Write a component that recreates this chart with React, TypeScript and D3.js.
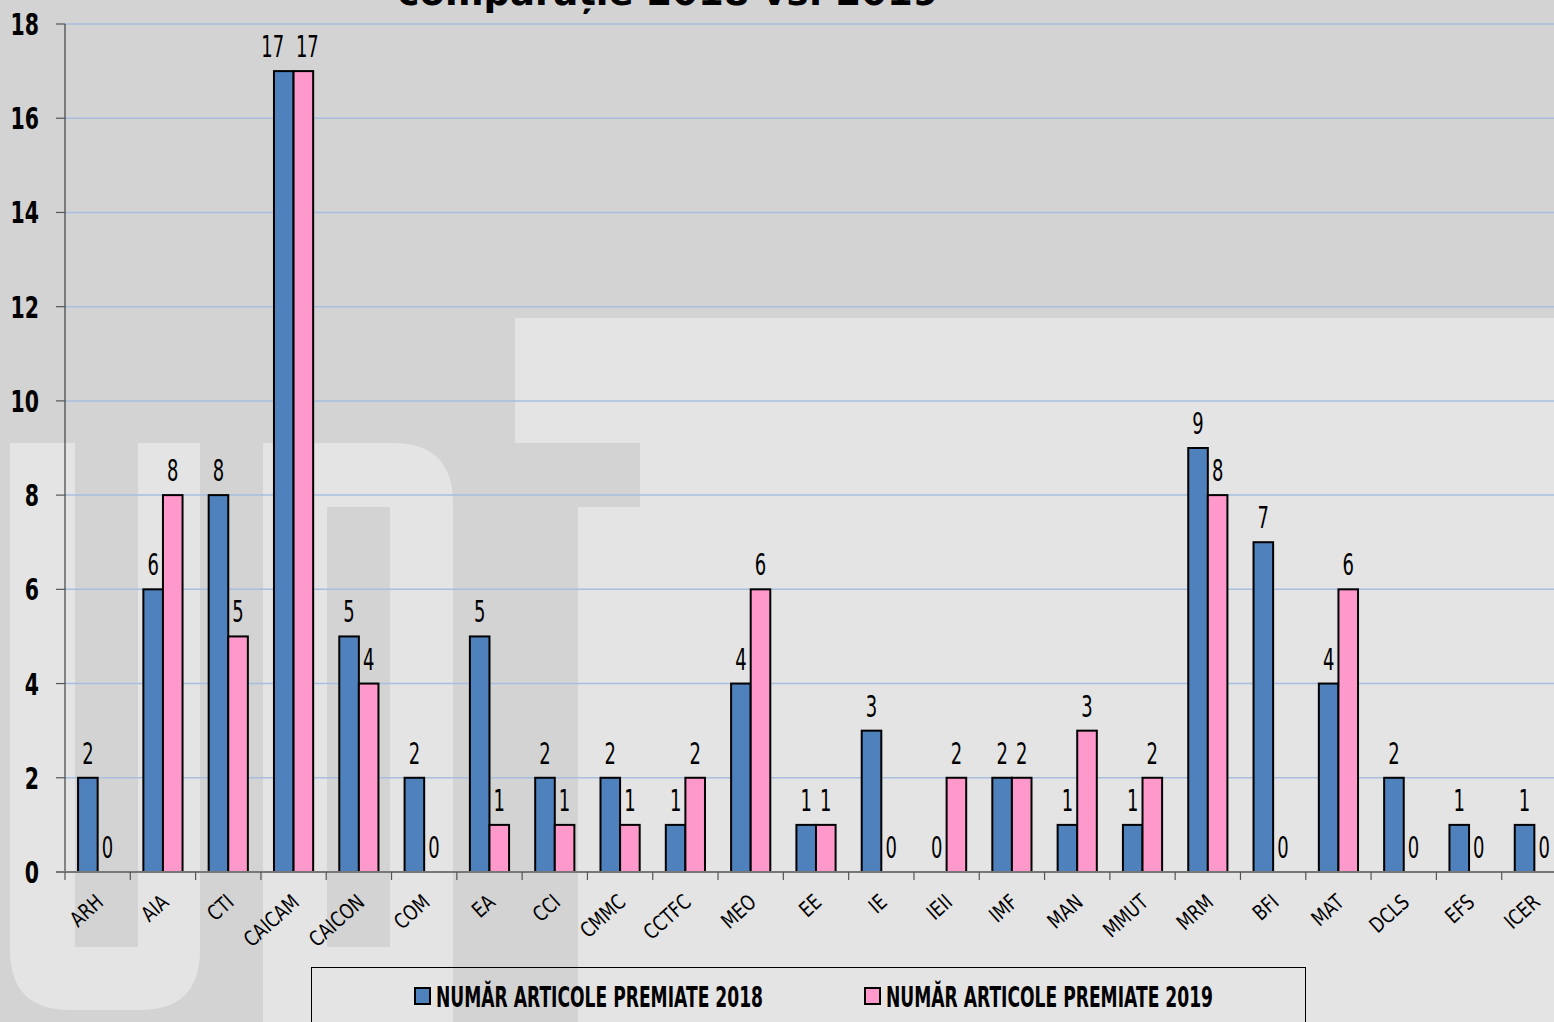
import React, { useRef, useEffect } from 'react';
import * as d3 from 'd3';

const categories = ['ARH', 'AIA', 'CTI', 'CAICAM', 'CAICON', 'COM', 'EA', 'CCI', 'CMMC', 'CCTFC', 'MEO', 'EE', 'IE', 'IEII', 'IMF', 'MAN', 'MMUT', 'MRM', 'BFI', 'MAT', 'DCLS', 'EFS', 'ICER'];
const values2018 = [2, 6, 8, 17, 5, 2, 5, 2, 2, 1, 4, 1, 3, 0, 2, 1, 1, 9, 7, 4, 2, 1, 1];
const values2019 = [0, 8, 5, 17, 4, 0, 1, 1, 1, 2, 6, 1, 0, 2, 2, 3, 2, 8, 0, 6, 0, 0, 0];
const seriesNames = ['NUMĂR ARTICOLE PREMIATE 2018', 'NUMĂR ARTICOLE PREMIATE 2019'];
const yTicks = [0, 2, 4, 6, 8, 10, 12, 14, 16, 18];
const titleText = 'comparație 2018 vs. 2019';

const FONT = '"DejaVu Sans", sans-serif';
const COLORS = ['#4f81bd', '#ff99cc'];

function App() {
  const svgRef = useRef<SVGSVGElement>(null);

  useEffect(() => {
    const svg = d3.select(svgRef.current);
    svg.selectAll('*').remove();
    const width = 1554;
    const height = 1022;
    const left = 65;
    const right = 1567; // plot runs past the picture's right edge
    const top = 24;
    const bottom = 872;

    // background + UPT watermark
    const dark = '#d3d3d3';
    const light = '#e4e4e4';
    svg.append('rect').attr('width', width).attr('height', height).attr('fill', dark);
    const wm = svg.append('g');
    // U
    wm.append('path')
      .attr('d', 'M10,443 H200 V950 Q200,1010 140,1010 H70 Q10,1010 10,950 Z')
      .attr('fill', light);
    wm.append('rect').attr('x', 75).attr('y', 443).attr('width', 63).attr('height', 504).attr('fill', dark);
    // P
    wm.append('path')
      .attr('d', 'M263,443 H393 Q453,443 453,503 V1022 H263 Z')
      .attr('fill', light);
    wm.append('rect').attr('x', 327).attr('y', 507).attr('width', 63).attr('height', 440).attr('fill', dark);
    // T
    wm.append('rect').attr('x', 515).attr('y', 318).attr('width', 1039).attr('height', 125).attr('fill', light);
    wm.append('rect').attr('x', 640).attr('y', 443).attr('width', 914).attr('height', 64).attr('fill', light);
    wm.append('rect').attr('x', 578).attr('y', 507).attr('width', 976).attr('height', 515).attr('fill', light);

    const x0 = d3.scaleBand<string>()
      .domain(categories)
      .range([left, right])
      .paddingInner(0.4)
      .paddingOuter(0.2);
    const x1 = d3.scaleBand<number>()
      .domain([0, 1])
      .range([0, x0.bandwidth()]);
    const y = d3.scaleLinear().domain([0, 18]).range([bottom, top]);

    // gridlines
    svg.append('g')
      .selectAll('line')
      .data(yTicks.filter(d => d > 0))
      .join('line')
      .attr('x1', left).attr('x2', width)
      .attr('y1', d => y(d)).attr('y2', d => y(d))
      .attr('stroke', '#a7bfdf').attr('stroke-width', 1.5);

    // y axis
    svg.append('line')
      .attr('x1', left).attr('x2', left)
      .attr('y1', top).attr('y2', bottom)
      .attr('stroke', '#222').attr('stroke-width', 1);
    const yt = svg.append('g')
      .selectAll('g')
      .data(yTicks)
      .join('g');
    yt.append('line')
      .attr('x1', 56).attr('x2', left)
      .attr('y1', d => y(d)).attr('y2', d => y(d))
      .attr('stroke', '#555').attr('stroke-width', 1.2);
    yt.append('text')
      .attr('transform', d => `translate(39,${y(d) + 11}) scale(0.66,1)`)
      .attr('text-anchor', 'end')
      .attr('font-family', FONT).attr('font-size', 31).attr('font-weight', 'bold').attr('fill', '#000')
      .text(d => d);

    // bars
    const series = [values2018, values2019];
    const groups = svg.append('g')
      .selectAll('g')
      .data(categories)
      .join('g')
      .attr('transform', d => `translate(${x0(d)},0)`);

    groups.selectAll('rect')
      .data((d, i) => series.map((s, k) => ({ k, v: s[i] })).filter(e => e.v > 0))
      .join('rect')
      .attr('x', e => x1(e.k)!)
      .attr('y', e => y(e.v))
      .attr('width', x1.bandwidth())
      .attr('height', e => bottom - y(e.v))
      .attr('fill', e => COLORS[e.k])
      .attr('stroke', '#000')
      .attr('stroke-width', 2);

    // value labels
    groups.selectAll('text')
      .data((d, i) => series.map((s, k) => ({ k, v: s[i], pair: [values2018[i], values2019[i]] })))
      .join('text')
      .attr('transform', e => {
        let cx = x1(e.k)! + x1.bandwidth() / 2;
        if (e.pair[0] >= 10 && e.pair[1] >= 10) cx += e.k === 0 ? -11 : 4;
        return `translate(${cx},${y(e.v) - 14}) scale(0.6,1)`;
      })
      .attr('text-anchor', 'middle')
      .attr('font-family', FONT).attr('font-size', 30).attr('fill', '#000')
      .text(e => e.v);

    // x axis
    svg.append('line')
      .attr('x1', 56).attr('x2', width)
      .attr('y1', bottom).attr('y2', bottom)
      .attr('stroke', '#777').attr('stroke-width', 2);
    svg.append('g')
      .selectAll('line')
      .data(d3.range(categories.length + 1))
      .join('line')
      .attr('x1', i => left + i * x0.step()).attr('x2', i => left + i * x0.step())
      .attr('y1', bottom).attr('y2', bottom + 8)
      .attr('stroke', '#555').attr('stroke-width', 1.2);

    svg.append('g')
      .selectAll('text')
      .data(categories)
      .join('text')
      .attr('transform', d => `translate(${x0(d)! + x0.bandwidth() / 2 + 7},${bottom + 32}) rotate(-42) scale(0.8,1)`)
      .attr('text-anchor', 'end')
      .attr('font-family', FONT).attr('font-size', 21).attr('fill', '#000')
      .text(d => d);

    // title (cut off at the top, as in the source)
    svg.append('text')
      .attr('x', 668).attr('y', 5)
      .attr('text-anchor', 'middle')
      .attr('font-family', '"DejaVu Sans", Verdana, sans-serif')
      .attr('font-weight', 'bold').attr('font-size', 37).attr('fill', '#000')
      .text(titleText);

    // legend
    const lg = svg.append('g');
    lg.append('rect')
      .attr('x', 311.5).attr('y', 967.5).attr('width', 994).attr('height', 80)
      .attr('fill', 'none').attr('stroke', '#000').attr('stroke-width', 1);
    const legendX = [415, 865];
    seriesNames.forEach((name, k) => {
      lg.append('rect')
        .attr('x', legendX[k]).attr('y', 988).attr('width', 15).attr('height', 16)
        .attr('fill', COLORS[k]).attr('stroke', '#000').attr('stroke-width', 2);
      lg.append('text')
        .attr('x', legendX[k] + 21).attr('y', 1007)
        .attr('font-family', FONT).attr('font-size', 28).attr('font-weight', 'bold').attr('fill', '#000')
        .attr('textLength', 327).attr('lengthAdjust', 'spacingAndGlyphs')
        .text(name);
    });
  }, []);

  return (
    <div style={{ position: 'absolute', left: 0, top: 0 }}>
      <svg ref={svgRef} width={1554} height={1022} style={{ display: 'block' }} />
    </div>
  );
}

export default App;
